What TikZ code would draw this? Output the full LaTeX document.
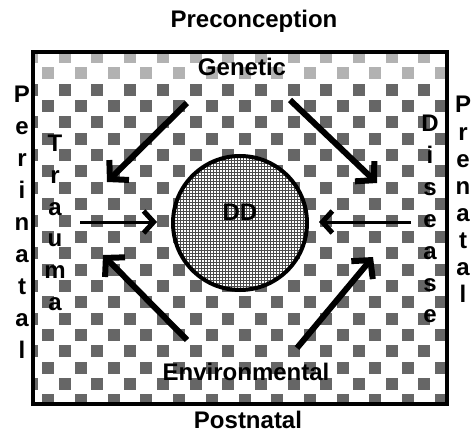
\documentclass[tikz,border=0pt]{standalone}
\usepackage{fontspec}
\setmainfont{Liberation Sans}
\usetikzlibrary{arrows.meta}
\begin{document}
\begin{tikzpicture}[x=1pt,y=-1pt,
  lbl/.style={font=\fontsize{24}{24}\selectfont\bfseries, inner sep=0pt, anchor=base},
  bigarrow/.style={line width=6pt, -{Straight Barb[length=13pt,width=28pt,line width=6pt]}},
  thinarrow/.style={line width=3pt, -{Straight Barb[length=10pt,width=22pt,line width=5pt]}},
  blob/.style={fill=black!60},
  faintblob/.style={fill=black!30},
]
\useasboundingbox (0,0) rectangle (474,433);
\fill[white] (0,0) rectangle (474,433);
% checkerboard background
\begin{scope}
  \clip (33,52) rectangle (447,404);
  \foreach \k in {0,...,21}{
    \foreach \j in {0,...,25}{
      \pgfmathtruncatemacro{\pp}{mod(\k+\j,2)}
      \ifnum\pp=0
        \ifnum\k<2
          \fill[faintblob] ({32+16.35*\j-6},{57+16.35*\k-6}) rectangle +(12,12);
        \else
          \fill[blob] ({32+16.35*\j-6},{57+16.35*\k-6}) rectangle +(12,12);
        \fi
      \fi
    }
  }
\end{scope}
% frame
\node[draw, line width=4pt, minimum width=414pt, minimum height=352pt, inner sep=0pt] (box) at (240,228) {};
% central circle
\node[circle, draw, fill=white, line width=4pt, minimum size=134pt, inner sep=0pt,
  path picture={\draw[black!70, line width=0.9pt, step=3pt] (path picture bounding box.south west) grid (path picture bounding box.north east);}] (dd) at (240,223) {};
% labels
\node[lbl] (precon) at (254,28) {Preconception};
\node[lbl] (genetic) at (242,76) {Genetic};
\node[lbl] (ddlbl) at (240,220) {DD};
\node[lbl] (env) at (246,380) {Environmental};
\node[lbl] (postnatal) at (248,428) {Postnatal};
\foreach \ch [count=\i from 0] in {P,e,r,i,n,a,t,a,l}
  \node[lbl] (peri\i) at (22,{103+31.9*\i}) {\ch};
\foreach \ch [count=\i from 0] in {T,r,a,u,m,a}
  \node[lbl] (trau\i) at (55,{152+31.6*\i}) {\ch};
\foreach \ch [count=\i from 0] in {P,r,e,n,a,t,a,l}
  \node[lbl] (pren\i) at (463,{113+27.1*\i}) {\ch};
\foreach \ch [count=\i from 0] in {D,i,s,e,a,s,e}
  \node[lbl] (dise\i) at (430,{132+31.8*\i}) {\ch};
% arrows
\coordinate (ulA) at (187,103); \coordinate (ulB) at (107,182);
\coordinate (urA) at (290,100); \coordinate (urB) at (377,183);
\coordinate (llA) at (187,340); \coordinate (llB) at (103,255);
\coordinate (lrA) at (297,348); \coordinate (lrB) at (373,257);
\coordinate (hlA) at (80,222);  \coordinate (hlB) at (157,222);
\coordinate (hrA) at (411,222); \coordinate (hrB) at (319,222);
\draw[bigarrow] (ulA) -- (ulB);
\draw[bigarrow] (urA) -- (urB);
\draw[bigarrow] (llA) -- (llB);
\draw[bigarrow] (lrA) -- (lrB);
\draw[thinarrow] (hlA) -- (hlB);
\draw[thinarrow] (hrA) -- (hrB);
\end{tikzpicture}
\end{document}
